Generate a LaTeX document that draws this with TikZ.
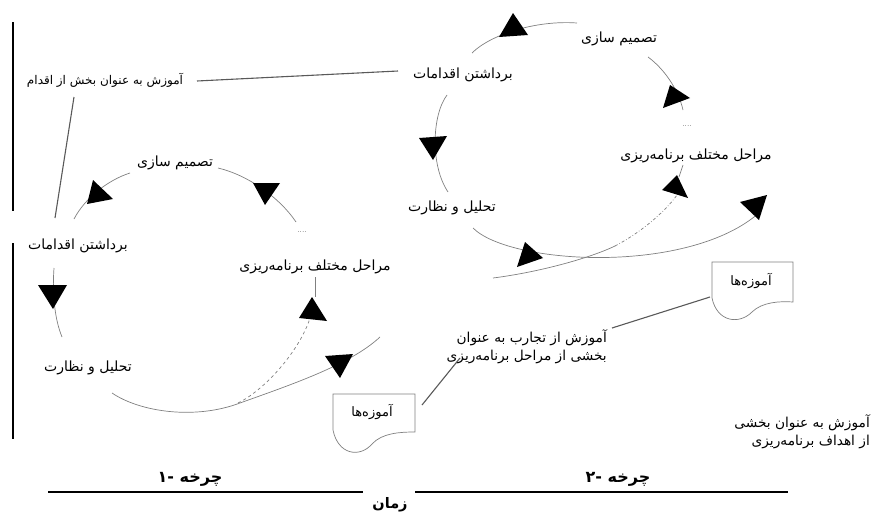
\documentclass[tikz,border=0pt]{standalone}
\usepackage{fontspec}
\newfontfamily\pfont[Script=Arabic]{DejaVu Sans}
\TeXXeTstate=1
\begin{document}
\begin{tikzpicture}[x=1pt,y=-1pt,
  lbl/.style={font=\pfont\fontsize{14}{17}\selectfont, inner sep=1pt},
  note/.style={font=\pfont\fontsize{12}{15}\selectfont, inner sep=1pt},
  small/.style={font=\pfont\fontsize{13.7}{18}\selectfont, inner sep=1pt, align=right},
  boxtxt/.style={font=\pfont\fontsize{13}{15}\selectfont, inner sep=1pt},
  ttl/.style={font=\pfont\bfseries\fontsize{16}{18}\selectfont, inner sep=1pt},
  timesty/.style={font=\pfont\bfseries\fontsize{14.5}{17}\selectfont, inner sep=1pt},
  dotsty/.style={font=\fontsize{7}{8}\selectfont, inner sep=0pt},
  arc/.style={draw=black!50, line width=0.7pt},
  link/.style={draw=black!65, line width=1.1pt},
  bar/.style={draw=black, line width=2.5pt},
  head/.style={fill=black},
  doc/.style={draw=black!50, line width=0.7pt, fill=white}]
\useasboundingbox (0,0) rectangle (872,514);

% ---------- labels ----------
\node[note] (learnAct) at (105,80) {\beginR آموزش به عنوان بخش از اقدام\endR};

\node[lbl] (dec1)  at (175,163) {\beginR تصمیم سازی\endR};
\node[lbl] (act1)  at (78,246)  {\beginR برداشتن اقدامات\endR};
\node[dotsty] (dots1) at (302,232) {....};
\node[lbl] (plan1) at (315,267) {\beginR مراحل مختلف برنامه‌ریزی\endR};
\node[lbl] (mon1)  at (88,368)  {\beginR تحلیل و نظارت\endR};

\node[lbl] (act2)  at (463,75)  {\beginR برداشتن اقدامات\endR};
\node[lbl] (dec2)  at (619,39)  {\beginR تصمیم سازی\endR};
\node[dotsty] (dots2) at (687,126) {....};
\node[lbl] (plan2) at (696,156) {\beginR مراحل مختلف برنامه‌ریزی\endR};
\node[lbl] (mon2)  at (452,208) {\beginR تحلیل و نظارت\endR};

\node[small, anchor=east] (expText) at (608,347)
  {\beginR آموزش از تجارب به عنوان\endR\\ \beginR بخشی از مراحل برنامه‌ریزی\endR};
\node[small, anchor=east] (goalText) at (871,432)
  {\beginR آموزش به عنوان بخشی\endR\\ \beginR از اهداف برنامه‌ریزی\endR};

% ---------- document boxes ----------
\draw[doc] (333,430) -- (333,394) -- (415,394) -- (415,432)
  .. controls (400,432) and (382,433) .. (372,444)
  .. controls (360,458) and (338,455) .. cycle;
\node[boxtxt] (box1) at (372,412) {\beginR آموزه‌ها\endR};

\draw[doc] (712,298) -- (712,262) -- (793,262) -- (793,302)
  .. controls (780,301) and (762,302) .. (752,312)
  .. controls (739,325) and (717,322) .. cycle;
\node[boxtxt] (box2) at (751,281) {\beginR آموزه‌ها\endR};

% ---------- first cycle ----------
\draw[arc] (130,173) .. controls (108,180) and (85,198) .. (74,219);
\fill[head] (93,180) -- (113,199) -- (87,204) -- cycle;
\draw[arc] (218,168) .. controls (248,175) and (280,198) .. (296,222);
\fill[head] (253,183) -- (280,183) -- (265,205) -- cycle;
\draw[arc] (54,268) .. controls (52,295) and (55,320) .. (62,337);
\fill[head] (38,285) -- (67,285) -- (53,309) -- cycle;
\draw[arc] (112,393) .. controls (140,412) and (195,420) .. (240,403)
  .. controls (290,385) and (350,365) .. (380,337);
\fill[head] (325,356) -- (353,354) -- (340,378) -- cycle;
\draw[arc, dashed] (238,403) .. controls (265,390) and (300,350) .. (310,318);
\draw[arc] (315,277) -- (315,297);
\fill[head] (312,297) -- (327,321) -- (299,318) -- cycle;

% ---------- second cycle ----------
\draw[arc] (447,95) .. controls (432,115) and (430,165) .. (448,192);
\fill[head] (419,138) -- (447,136) -- (433,160) -- cycle;
\draw[arc] (472,53) .. controls (490,35) and (535,20) .. (577,23);
\fill[head] (513,13) -- (528,35) -- (499,37) -- cycle;
\draw[arc] (648,57) .. controls (663,68) and (678,88) .. (683,110);
\fill[head] (670,85) -- (690,98) -- (663,108) -- cycle;
\draw[arc] (473,228) .. controls (510,265) and (690,275) .. (760,212);
\fill[head] (525,242) -- (543,258) -- (517,267) -- cycle;
\fill[head] (740,202) -- (767,195) -- (759,220) -- cycle;
\draw[arc] (493,278) .. controls (540,272) and (590,258) .. (615,246);
\draw[arc, dash dot] (615,246) .. controls (640,233) and (665,212) .. (677,195);
\draw[arc] (683,165) -- (679,177);
\fill[head] (677,175) -- (688,198) -- (662,190) -- cycle;

% ---------- learning links ----------
\draw[link] (197,81) -- (398,71);
\draw[link] (74,97) -- (55,218);
\draw[link] (612,328) -- (710,297);
\draw[link] (460,358) -- (422,405);

% ---------- frame and time axis ----------
\draw[bar] (13,22) -- (13,211);
\draw[bar] (13,243) -- (13,439);
\draw[bar] (48,492) -- (363,492);
\draw[bar] (415,492) -- (788,492);
\node[ttl] (cyc1) at (190,479) {\beginR چرخه -۱\endR};
\node[ttl] (cyc2) at (618,479) {\beginR چرخه -۲\endR};
\node[timesty] (time) at (390,505) {\beginR زمان\endR};
\end{tikzpicture}
\end{document}
